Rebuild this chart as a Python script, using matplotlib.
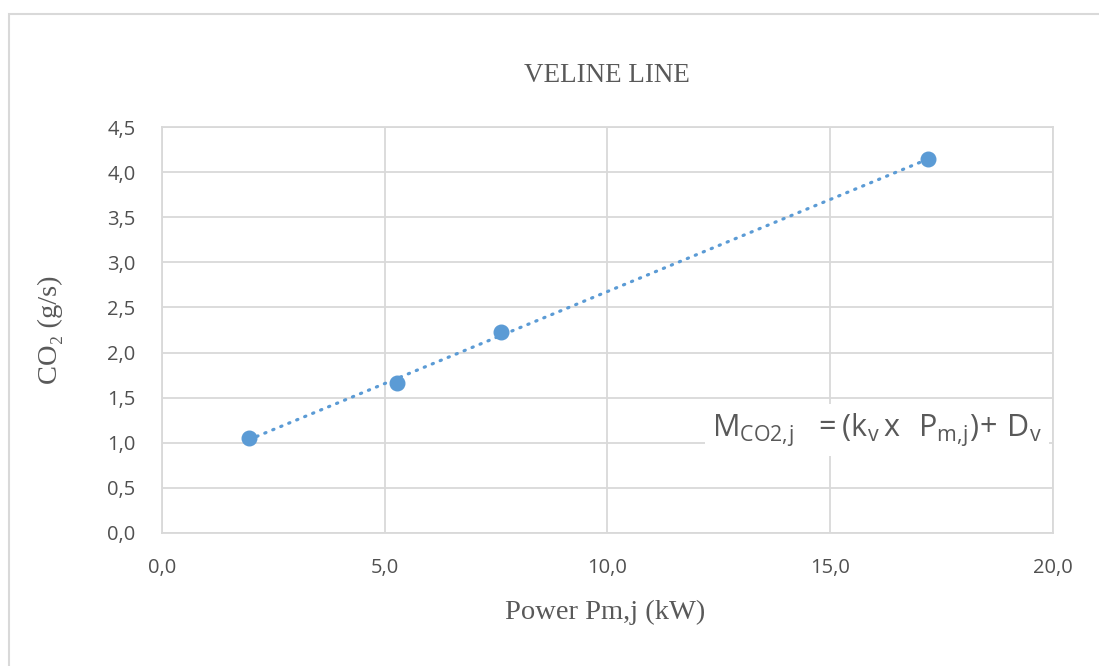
import numpy as np
import matplotlib
matplotlib.use('Agg')
import matplotlib.pyplot as plt
import matplotlib.patches as mpatches
from matplotlib.ticker import FuncFormatter

# ── 数据 ──
power = [1.95, 5.27, 7.62, 17.19]      # Power Pm,j (kW)
co2 = [1.05, 1.66, 2.23, 4.14]         # CO2 (g/s)
x_ticks = [0, 5, 10, 15, 20]
y_ticks = [0, 0.5, 1.0, 1.5, 2.0, 2.5, 3.0, 3.5, 4.0, 4.5]

blue = '#5B9BD5'
grey_txt = '#595959'
grid_c = '#d9d9d9'

plt.rcParams['mathtext.fontset'] = 'custom'
plt.rcParams['mathtext.rm'] = 'Open Sans'
plt.rcParams['mathtext.it'] = 'Open Sans'

fig = plt.figure(figsize=(10.99, 6.66), dpi=100)
ax = fig.add_axes([0.1474, 0.1997, 0.8106, 0.6096])

# trendline (linear)
k, d = np.polyfit(power, co2, 1)
xs = np.array([min(power), max(power)])
ax.plot(xs, k * xs + d, color=blue, lw=2.3, linestyle=(0, (0.4, 2.3)),
        dash_capstyle='round', zorder=3)
ax.plot(power, co2, 'o', color=blue, ms=10.5, zorder=4)

ax.set_xlim(0, 20)
ax.set_ylim(0, 4.5)
ax.set_xticks(x_ticks)
ax.set_yticks(y_ticks)
fmt = FuncFormatter(lambda v, p: f'{v:.1f}'.replace('.', ','))
ax.xaxis.set_major_formatter(fmt)
ax.yaxis.set_major_formatter(fmt)
ax.tick_params(length=0, labelsize=14.5, labelcolor='#505050')
ax.tick_params(axis='y', pad=19)
ax.tick_params(axis='x', pad=18)
for lab in ax.get_xticklabels() + ax.get_yticklabels():
    lab.set_family('Open Sans')

ax.grid(True, color=grid_c, lw=1.3)
ax.set_axisbelow(True)
for s in ax.spines.values():
    s.set_color(grid_c)
    s.set_linewidth(1.3)

# equation label
ax.text(12.35, 1.07, r'$\mathrm{M_{CO2,\!j}\ \ =(k_v\,x\ \ P_{m,\!j})\!+\,D_v}$',
        fontsize=22, color=grey_txt, va='baseline', ha='left', zorder=5,
        bbox=dict(facecolor='white', edgecolor='none', pad=5))

serif = ['Liberation Serif', 'DejaVu Serif']
fig.text(0.5525, 0.887, 'VELINE LINE', family=serif, fontsize=19.5,
         color=grey_txt, ha='center', va='center')
fig.text(0.5505, 0.081, 'Power Pm,j (kW)', family=serif, fontsize=20.5,
         color=grey_txt, ha='center', va='center')
fig.text(0.046, 0.505, 'CO₂ (g/s)', family=serif, fontsize=20.5,
         color=grey_txt, ha='center', va='center', rotation=90)

# outer chart border
fig.patches.append(mpatches.Rectangle((9 / 1099, -0.1), 1.2, 1.1 - 14 / 666,
                                      transform=fig.transFigure, fill=False,
                                      edgecolor=grid_c, lw=1.5))

fig.savefig('out.png', dpi=100)
